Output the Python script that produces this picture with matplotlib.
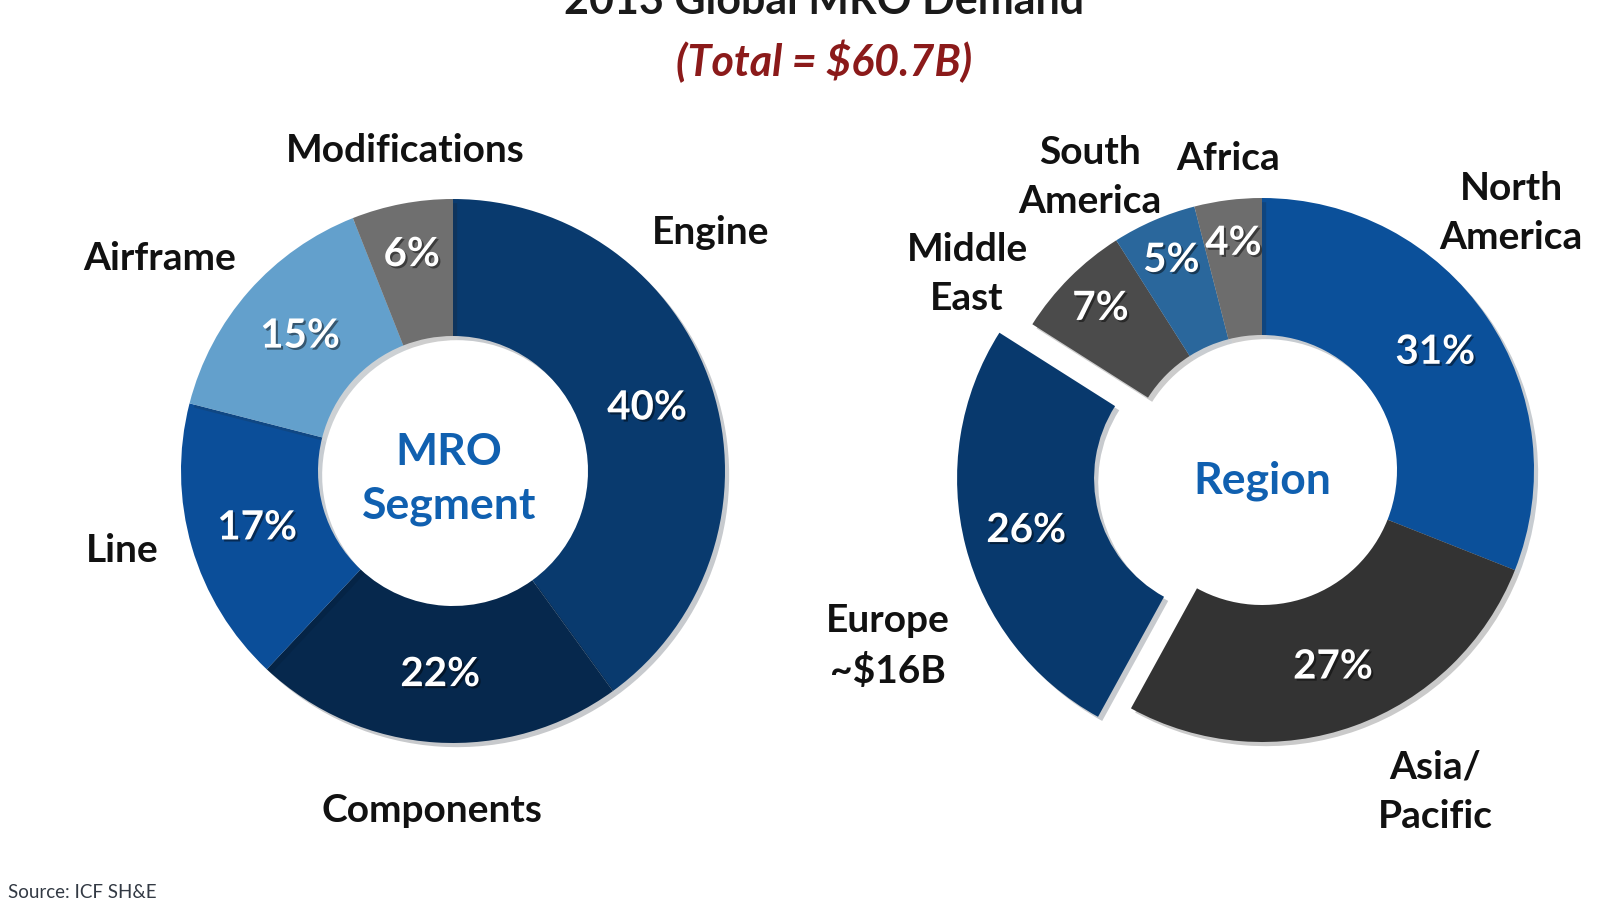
import math
import matplotlib
matplotlib.use("Agg")
import matplotlib.pyplot as plt
import matplotlib.patheffects as pe

plt.rcParams['font.family'] = ['Lato', 'DejaVu Sans']

# MRO demand by segment
segments = ["Engine", "Components", "Line", "Airframe", "Modifications"]
segment_share = [40, 22, 17, 15, 6]
segment_colors = ["#093a6e", "#06284d", "#0b4e99", "#63a0cc", "#6f6f6f"]

# MRO demand by region
regions = ["North\nAmerica", "Asia/\nPacific", "Europe\n~$16B", "Middle\nEast", "South\nAmerica", "Africa"]
region_share = [31, 27, 26, 7, 5, 4]
region_colors = ["#0b509a", "#333333", "#08396d", "#4b4b4b", "#2a679c", "#6d6d6d"]
region_explode = [0, 0, 34, 0, 0, 0]

W, H = 1600, 900
fig = plt.figure(figsize=(16, 9), dpi=100)
ax = fig.add_axes([0, 0, 1, 1])


def Y(y):
    # pixel row (from top) -> data y
    return H - y


shadow = [pe.SimplePatchShadow(offset=(3, -3), alpha=0.22), pe.Normal()]
txt_shadow = [pe.withSimplePatchShadow(offset=(1.5, -1.5), shadow_rgbFace="black", alpha=0.45)]

left_c = (453, Y(471))
right_c = (1262, Y(470))
R, RW = 272, 137


def push_small_labels(wedges, pcts, shares, frac=0.83):
    # thin slices get their % a bit further out, like the original
    for w, t, v in zip(wedges, pcts, shares):
        if v < 8:
            th = math.radians(0.5 * (w.theta1 + w.theta2))
            cx, cy = w.center
            t.set_position((cx + frac * R * math.cos(th), cy + frac * R * math.sin(th)))


wedges, _, pcts = ax.pie(segment_share, colors=segment_colors, center=left_c, radius=R,
                         startangle=90, counterclock=False, autopct="%.0f%%", pctdistance=0.75,
                         wedgeprops=dict(width=RW, linewidth=0, path_effects=shadow),
                         textprops=dict(color="white", fontsize=29, fontweight="bold"))
for t in pcts:
    t.set_path_effects(txt_shadow)
push_small_labels(wedges, pcts, segment_share, 0.81)

wedges, _, pcts = ax.pie(region_share, colors=region_colors, center=right_c, radius=R,
                         startangle=90, counterclock=False, autopct="%.0f%%", pctdistance=0.77,
                         explode=region_explode,
                         wedgeprops=dict(width=RW, linewidth=0, path_effects=shadow),
                         textprops=dict(color="white", fontsize=29, fontweight="bold"))
for t in pcts:
    t.set_path_effects(txt_shadow)
push_small_labels(wedges, pcts, region_share, 0.84)

# category labels around the rings (pixel layout)
segment_label_pos = [(711, 232), (432, 811), (122, 550), (160, 258), (405, 150)]
region_label_pos = [(1511, 213), (1435, 792), (888, 646), (967, 274), (1090, 177), (1228, 159)]

for name, (x, y) in zip(segments, segment_label_pos):
    ax.text(x, Y(y), name, ha="center", va="center", fontsize=28, fontweight="bold",
            color="#111111")
for name, (x, y) in zip(regions, region_label_pos):
    ax.text(x, Y(y), name, ha="center", va="center", fontsize=28, fontweight="bold",
            color="#111111", linespacing=1.5)

# centre captions
ax.text(left_c[0] - 4, left_c[1] - 8, "MRO\nSegment", ha="center", va="center", fontsize=32,
        fontweight="bold", color="#1060b0", linespacing=1.42)
ax.text(right_c[0], right_c[1] - 11, "Region", ha="center", va="center", fontsize=32,
        fontweight="bold", color="#1060b0")

# titles
ax.text(824, Y(14), "2013 Global MRO Demand", ha="center", va="baseline", fontsize=31,
        fontweight="bold", color="#1a1a1a")
ax.text(824, Y(61), "(Total = $60.7B)", ha="center", va="center", fontsize=31,
        fontweight="bold", fontstyle="italic", color="#8b1a1a")
ax.text(8, Y(892), "Source: ICF SH&E", ha="left", va="center", fontsize=13.5,
        color="#333a44")

ax.set_xlim(0, W)
ax.set_ylim(0, H)
ax.set_aspect("equal")
ax.axis("off")

fig.savefig("out.png", dpi=100, facecolor="white")
